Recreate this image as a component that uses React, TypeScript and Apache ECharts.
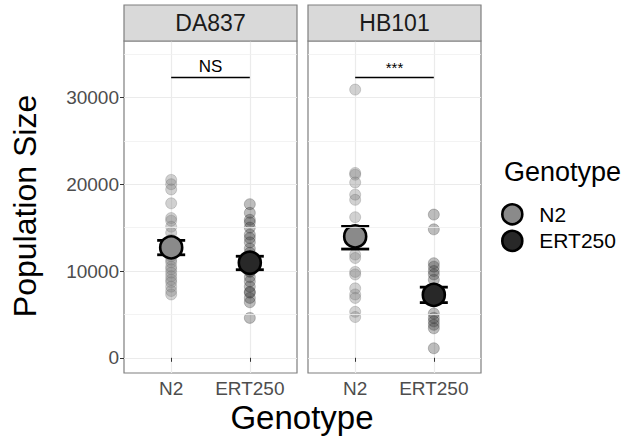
import React, { useEffect, useRef } from "react";
import * as echarts from "echarts";

const panels = ["DA837", "HB101"];
const categories = ["N2", "ERT250"];
const yTicks = [0, 10000, 20000, 30000];
const yMinorTicks = [5000, 15000, 25000, 35000];

const da837N2 = [20500, 20000, 19400, 17800, 16100, 15800, 15100, 14400, 13600, 13000, 12400, 11700, 11300, 11000, 10500, 10200, 9800, 9400, 9000, 8700, 8200, 7700, 7300];
const da837ERT250 = [17700, 16700, 15900, 15600, 15000, 14200, 13800, 13300, 12600, 12100, 11500, 11000, 10500, 10000, 9900, 9300, 8800, 8200, 7600, 7500, 6900, 6400, 4600];
const hb101N2 = [30900, 21300, 21100, 20200, 18800, 18200, 16200, 14500, 13500, 11900, 11500, 9900, 9600, 8000, 7300, 6900, 5300, 4700];
const hb101ERT250 = [16500, 14800, 10900, 10500, 10000, 9600, 9000, 8000, 7300, 6500, 5100, 4600, 4200, 3800, 3400, 1100];

const da837Mean = [12720, 10950];
const da837Lower = [11870, 10150];
const da837Upper = [13530, 11700];
const hb101Mean = [13990, 7250];
const hb101Lower = [12530, 6360];
const hb101Upper = [15140, 8140];

const signifLabels = ["NS", "***"];
const signifY = 32300;

const pointColors = ["rgba(128,128,128,0.45)", "rgba(51,51,51,0.4)"];
const pointBorders = ["rgba(110,110,110,0.45)", "rgba(40,40,40,0.4)"];
const meanColors = ["#8a8a8a", "#282828"];

const FONT = "'Liberation Sans', Arial, sans-serif";

export default function App() {
  const ref = useRef<HTMLDivElement>(null);
  useEffect(() => {
    if (!ref.current) return;
    const chart = echarts.init(ref.current, undefined, { renderer: "svg" });
    const panelPoints = [
      [da837N2, da837ERT250],
      [hb101N2, hb101ERT250],
    ];
    const panelMean = [da837Mean, hb101Mean];
    const panelLower = [da837Lower, hb101Lower];
    const panelUpper = [da837Upper, hb101Upper];
    const gridLefts = [124, 308];
    const gridW = 173;

    const series: any[] = [];
    panels.forEach((p, gi) => {
      series.push({
        type: "scatter",
        xAxisIndex: gi,
        yAxisIndex: gi,
        data: [],
        silent: true,
        z: 1,
        markLine: {
          silent: true,
          symbol: ["none", "none"],
          label: { show: false },
          lineStyle: { color: "#f0f0f0", width: 0.8, type: "solid" },
          data: yMinorTicks.map((v) => ({ yAxis: v })),
        },
      });
      categories.forEach((c, ci) => {
        series.push({
          type: "scatter",
          xAxisIndex: gi,
          yAxisIndex: gi,
          symbol: "circle",
          symbolSize: 11,
          z: 2,
          itemStyle: { color: pointColors[ci], borderColor: pointBorders[ci], borderWidth: 0.8 },
          data: panelPoints[gi][ci].map((v) => [ci + 1, v]),
        });
      });
      series.push({
        type: "custom",
        xAxisIndex: gi,
        yAxisIndex: gi,
        z: 3,
        renderItem: (params: any, api: any) => {
          const x = api.value(0);
          const lo = api.coord([x, api.value(1)]);
          const hi = api.coord([x, api.value(2)]);
          const hw = 14;
          const st = { stroke: "#000", lineWidth: 2.8 };
          return {
            type: "group",
            children: [
              { type: "line", shape: { x1: lo[0], y1: lo[1], x2: hi[0], y2: hi[1] }, style: st },
              { type: "line", shape: { x1: lo[0] - hw, y1: lo[1], x2: lo[0] + hw, y2: lo[1] }, style: st },
              { type: "line", shape: { x1: hi[0] - hw, y1: hi[1], x2: hi[0] + hw, y2: hi[1] }, style: st },
            ],
          };
        },
        data: categories.map((c, ci) => [ci + 1, panelLower[gi][ci], panelUpper[gi][ci]]),
      });
      categories.forEach((c, ci) => {
        series.push({
          name: c,
          type: "scatter",
          xAxisIndex: gi,
          yAxisIndex: gi,
          symbol: "circle",
          symbolSize: 22,
          z: 4,
          itemStyle: { color: meanColors[ci], borderColor: "#000", borderWidth: 2.6, opacity: 1 },
          data: [[ci + 1, panelMean[gi][ci]]],
          markLine:
            ci === 0
              ? {
                  silent: true,
                  symbol: ["none", "none"],
                  lineStyle: { color: "#000", width: 1.3, type: "solid" },
                  label: {
                    show: true,
                    position: "insideMiddleTop",
                    formatter: signifLabels[gi],
                    fontSize: gi === 0 ? 17 : 15,
                    fontFamily: FONT,
                    color: "#000",
                    distance: 2,
                  },
                  data: [[{ coord: [1, signifY] }, { coord: [2, signifY] }]],
                }
              : undefined,
        });
      });
    });

    const graphic: any[] = [];
    panels.forEach((p, gi) => {
      graphic.push({
        type: "rect",
        shape: { x: gridLefts[gi], y: 5, width: gridW, height: 36 },
        style: { fill: "#d9d9d9", stroke: "#7f7f7f", lineWidth: 1.2 },
        z: 10,
      });
      graphic.push({
        type: "text",
        x: gridLefts[gi] + gridW / 2,
        y: 23,
        style: { text: p, fontSize: 23, fontFamily: FONT, fill: "#1a1a1a", align: "center", verticalAlign: "middle" },
        z: 11,
      });
    });
    graphic.push({
      type: "text",
      x: 25,
      y: 206,
      rotation: Math.PI / 2,
      style: { text: "Population Size", fontSize: 32, fontFamily: FONT, fill: "#000", align: "center", verticalAlign: "middle" },
    });
    graphic.push({
      type: "text",
      x: 302,
      y: 417,
      style: { text: "Genotype", fontSize: 33, fontFamily: FONT, fill: "#000", align: "center", verticalAlign: "middle" },
    });
    graphic.push({
      type: "text",
      x: 504,
      y: 172,
      style: { text: "Genotype", fontSize: 27, fontFamily: FONT, fill: "#000", align: "left", verticalAlign: "middle" },
    });

    const option: any = {
      animation: false,
      textStyle: { fontFamily: FONT },
      grid: gridLefts.map((l) => ({
        left: l,
        top: 41,
        width: gridW,
        height: 332,
        show: true,
        borderColor: "#7f7f7f",
        borderWidth: 1.2,
        backgroundColor: "#fff",
      })),
      xAxis: panels.map((p, gi) => ({
        gridIndex: gi,
        type: "value",
        min: 0.4,
        max: 2.6,
        axisLine: { show: false },
        axisTick: { show: true, length: 4, lineStyle: { color: "#333" }, customValues: [1, 2] },
        axisLabel: {
          customValues: [1, 2],
          formatter: (v: number) => categories[Math.round(v) - 1] ?? "",
          fontSize: 19,
          color: "#4d4d4d",
          margin: 6,
          fontFamily: FONT,
        },
        splitLine: { show: true, lineStyle: { color: "#ebebeb", width: 1.2 } },
      })),
      yAxis: panels.map((p, gi) => ({
        gridIndex: gi,
        type: "value",
        min: -1750,
        max: 36500,
        axisLine: { show: false },
        axisTick: { show: gi === 0, length: 4, lineStyle: { color: "#333" }, customValues: yTicks },
        axisLabel: {
          show: gi === 0,
          customValues: yTicks,
          formatter: (v: number) => String(v),
          fontSize: 19,
          color: "#4d4d4d",
          margin: 5,
          fontFamily: FONT,
        },
        splitLine: { show: true, lineStyle: { color: "#ebebeb", width: 1.2 } },
      })),
      legend: {
        orient: "vertical",
        left: 496,
        top: 198,
        itemWidth: 20,
        itemHeight: 20,
        itemGap: 4,
        textStyle: { fontSize: 21, color: "#000", fontFamily: FONT, padding: [0, 0, 0, 12] },
        data: categories.map((c, ci) => ({
          name: c,
          icon: "circle",
          itemStyle: { color: meanColors[ci], borderColor: "#000", borderWidth: 2.6 },
        })),
      },
      series,
      graphic,
    };
    chart.setOption(option);
    return () => chart.dispose();
  }, []);
  return <div ref={ref} style={{ position: "absolute", left: 0, top: 0, width: 630, height: 444 }} />;
}
